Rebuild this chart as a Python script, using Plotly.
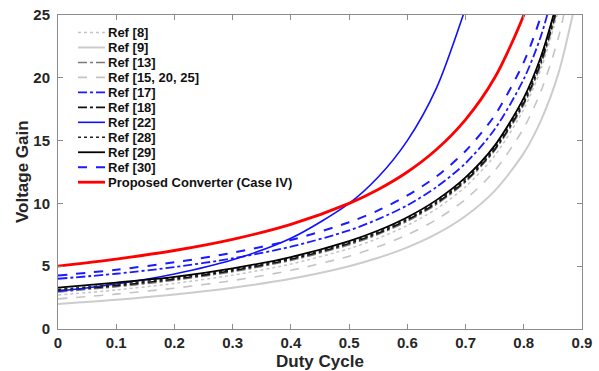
import plotly.graph_objects as go

# Duty cycle sample points
duty = [0, 0.1, 0.2, 0.3, 0.4, 0.5, 0.55, 0.6, 0.65, 0.7, 0.75, 0.8, 0.83, 0.86, 0.89]

# Voltage gain values (None = off the top of the chart)
ref8 = [2.7, 3.11, 3.63, 4.29, 5.17, 6.4, 7.22, 8.25, 9.57, 11.33, 13.8, 17.5, 20.76, 25.43, None]
ref9 = [2.0, 2.33, 2.75, 3.29, 4.0, 5.0, 5.67, 6.5, 7.57, 9.0, 11.0, 14.0, 16.65, 20.43, 26.27]
ref13 = [2.95, 3.36, 3.88, 4.56, 5.46, 6.7, 7.53, 8.58, 9.92, 11.7, 14.2, 17.85, 21.1, 25.8, None]
ref15_20_25 = [2.4, 2.78, 3.25, 3.86, 4.67, 5.8, 6.56, 7.5, 8.71, 10.33, 12.6, 16.0, 19.0, 23.29, 29.9]
ref17 = [4.0, 4.4, 4.93, 5.62, 6.55, 7.85, 8.75, 9.85, 11.3, 13.2, 15.9, 19.9, 23.4, 28.5, None]
ref18 = [3.05, 3.45, 3.97, 4.65, 5.55, 6.8, 7.63, 8.68, 10.02, 11.8, 14.3, 18.0, 21.3, 26.0, None]
ref22 = [3.0, 3.58, 4.38, 5.51, 7.22, 10.0, 12.1, 15.0, 19.18, 25.56, None, None, None, None, None]
ref28 = [3.15, 3.55, 4.07, 4.74, 5.63, 6.88, 7.72, 8.77, 10.12, 11.92, 14.45, 18.2, 21.5, 26.2, None]
ref29 = [3.3, 3.7, 4.15, 4.83, 5.73, 7.0, 7.84, 8.9, 10.26, 12.07, 14.6, 18.4, 21.75, 26.5, None]
ref30 = [4.25, 4.72, 5.31, 6.07, 7.08, 8.5, 9.44, 10.63, 12.14, 14.17, 17.0, 21.25, 25.0, 30.4, None]
proposed = [5.0, 5.56, 6.25, 7.14, 8.33, 10.0, 11.11, 12.5, 14.29, 16.67, 20.0, 25.0, 29.4, None, None]

series_names = ["Ref [8]", "Ref [9]", "Ref [13]", "Ref [15, 20, 25]", "Ref [17]", "Ref [18]",
                "Ref [22]", "Ref [28]", "Ref [29]", "Ref [30]", "Proposed Converter (Case IV)"]
series_values = [ref8, ref9, ref13, ref15_20_25, ref17, ref18, ref22, ref28, ref29, ref30, proposed]

x_ticks = [0, 0.1, 0.2, 0.3, 0.4, 0.5, 0.6, 0.7, 0.8, 0.9]
x_tick_text = ["0", "0.1", "0.2", "0.3", "0.4", "0.5", "0.6", "0.7", "0.8", "0.9"]
y_ticks = [0, 5, 10, 15, 20, 25]
y_tick_text = ["0", "5", "10", "15", "20", "25"]
x_title = "Duty Cycle"
y_title = "Voltage Gain"

# styles
styles = [
    dict(color="#c4c4c4", dash="dot", width=1.5),
    dict(color="#cccccc", dash="solid", width=2),
    dict(color="#7a7a7a", dash="dashdot", width=1.5),
    dict(color="#c4c4c4", dash="dash", width=1.6),
    dict(color="#1a1aff", dash="dashdot", width=1.8),
    dict(color="#111111", dash="dashdot", width=1.6),
    dict(color="#1010ff", dash="solid", width=1.6),
    dict(color="#222222", dash="dot", width=1.6),
    dict(color="#000000", dash="solid", width=1.8),
    dict(color="#1a1aff", dash="dash", width=2),
    dict(color="#ff0000", dash="solid", width=2.8),
]

FONT = "Liberation Sans, Arial, sans-serif"
TXT = "#262626"

fig = go.Figure()
for name, vals, st in zip(series_names, series_values, styles):
    fig.add_trace(go.Scatter(
        x=duty, y=vals, mode="lines", name=name,
        line=dict(color=st["color"], dash=st["dash"], width=st["width"], shape="spline", smoothing=0.8),
        showlegend=False,
    ))

# custom compact legend (top-left, inside the axes)
plot_l, plot_t, plot_w, plot_h = 58, 15, 524, 314
row0, row_gap = 32.5, 14.97
for i, (name, st) in enumerate(zip(series_names, styles)):
    ypx = row0 + row_gap * i
    yp = (plot_t + plot_h - ypx) / plot_h
    fig.add_shape(type="line", xref="paper", yref="paper",
                  x0=(78 - plot_l) / plot_w, x1=(105 - plot_l) / plot_w, y0=yp, y1=yp,
                  line=dict(color=st["color"], dash=st["dash"], width=st["width"]))
    fig.add_annotation(xref="paper", yref="paper", x=(107 - plot_l) / plot_w, y=yp,
                       text=name, showarrow=False, xanchor="left", yanchor="middle",
                       borderpad=0,
                       font=dict(family=FONT, size=13, color="#111111", weight="bold"))

# axis titles as annotations (fixed placement like the reference)
fig.add_annotation(xref="paper", yref="paper", x=0.5, y=(plot_t + plot_h - 361) / plot_h,
                   text=x_title, showarrow=False, xanchor="center", yanchor="middle",
                   borderpad=0, font=dict(family=FONT, size=17, color=TXT, weight="bold"))
fig.add_annotation(xref="paper", yref="paper", x=(22 - plot_l) / plot_w, y=0.5,
                   text=y_title, showarrow=False, xanchor="center", yanchor="middle",
                   textangle=-90, borderpad=0,
                   font=dict(family=FONT, size=17, color=TXT, weight="bold"))

axis_common = dict(
    showline=True, linecolor="#8c8c8c", linewidth=1, mirror="ticks",
    ticks="inside", ticklen=5, tickcolor="#8c8c8c", tickwidth=1,
    showgrid=False, zeroline=False, automargin=False,
    tickfont=dict(family=FONT, size=15, color=TXT, weight="bold"),
)

fig.update_xaxes(range=[0, 0.9], tickvals=x_ticks, ticktext=x_tick_text,
                 ticklabelstandoff=0, **axis_common)
fig.update_yaxes(range=[0, 25], tickvals=y_ticks, ticktext=y_tick_text,
                 ticklabelstandoff=4, **axis_common)

fig.update_layout(
    width=599, height=371,
    margin=dict(l=58, r=17, t=15, b=42),
    paper_bgcolor="white", plot_bgcolor="white",
    showlegend=False,
)

fig.write_html("out.html")
